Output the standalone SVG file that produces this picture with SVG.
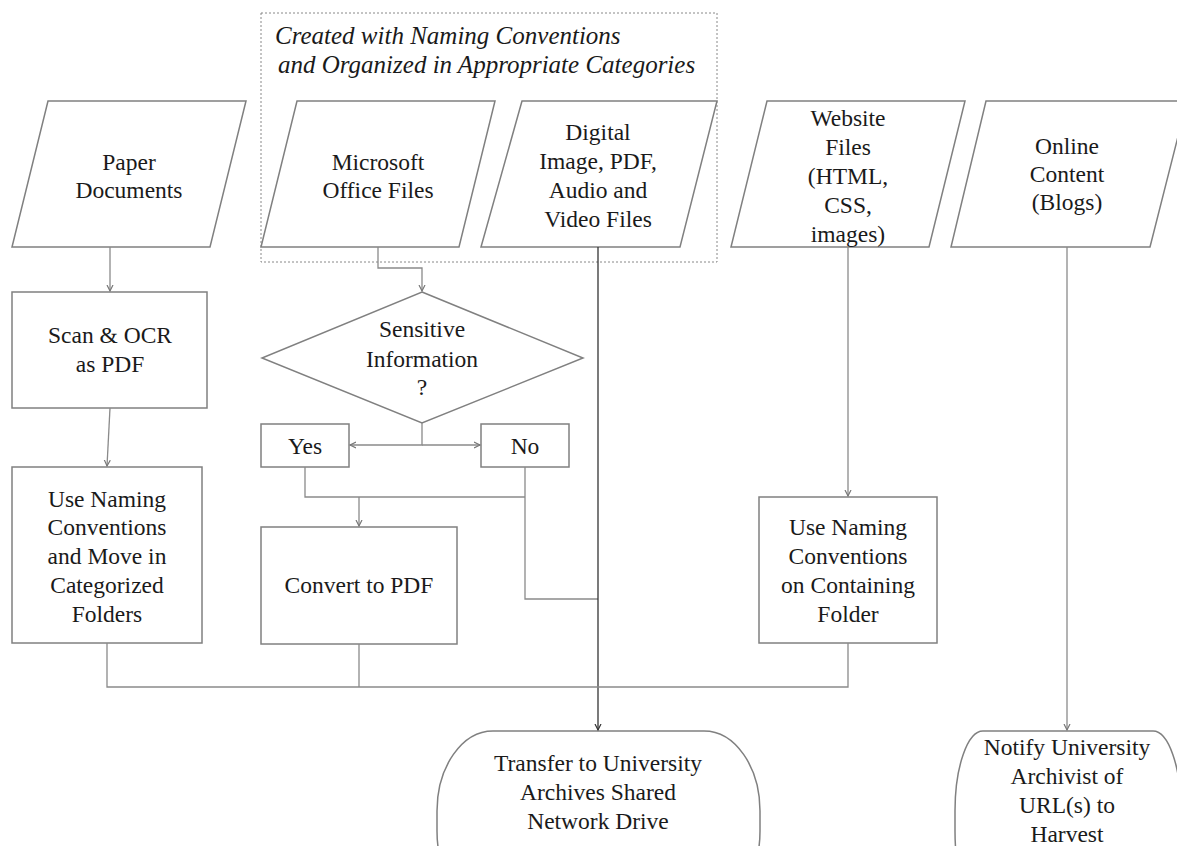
<svg xmlns="http://www.w3.org/2000/svg" width="1177" height="846" viewBox="0 0 1177 846">
<defs>
<marker id="arr" markerWidth="8" markerHeight="8" refX="6" refY="4" orient="auto" markerUnits="userSpaceOnUse">
<path d="M0,1 L6,4 L0,7" fill="none" stroke="#777" stroke-width="1.2"/>
</marker>
<marker id="arrDark" markerWidth="8" markerHeight="8" refX="6" refY="4" orient="auto" markerUnits="userSpaceOnUse">
<path d="M0,1 L6,4 L0,7" fill="none" stroke="#333" stroke-width="1.2"/>
</marker>
<style>
.shape{fill:#fff;stroke:#808080;stroke-width:1.5}
.t{font-family:"Liberation Serif","Times New Roman",serif;font-size:23.5px;fill:#1a1a1a;text-anchor:middle}
.it{font-family:"Liberation Serif","Times New Roman",serif;font-size:25px;font-style:italic;fill:#1a1a1a}
.c{fill:none;stroke:#8a8a8a;stroke-width:1.3}
.cd{fill:none;stroke:#333;stroke-width:1.3}
</style>
</defs>
<rect width="1177" height="846" fill="#fff"/>

<g id="group-box">
<rect x="261" y="13" width="456" height="249" fill="none" stroke="#888" stroke-width="1" stroke-dasharray="2,2"/>
<text class="it" x="275" y="44">Created with Naming Conventions</text>
<text class="it" x="278" y="73">and Organized in Appropriate Categories</text>
</g>

<g id="paper">
<polygon class="shape" points="48,101 246,101 210,247 12,247"/>
<text class="t" x="129" y="170">Paper</text>
<text class="t" x="129" y="198">Documents</text>
</g>
<g id="office">
<polygon class="shape" points="297,101 495,101 459,247 261,247"/>
<text class="t" x="378" y="170">Microsoft</text>
<text class="t" x="378" y="198">Office Files</text>
</g>
<g id="digital">
<polygon class="shape" points="522,101 717,101 680,247 481,247"/>
<text class="t" x="598" y="140">Digital</text>
<text class="t" x="598" y="169">Image, PDF,</text>
<text class="t" x="598" y="198">Audio and</text>
<text class="t" x="598" y="227">Video Files</text>
</g>
<g id="website">
<polygon class="shape" points="767,101 965,101 929,247 731,247"/>
<text class="t" x="848" y="126">Website</text>
<text class="t" x="848" y="155">Files</text>
<text class="t" x="848" y="184">(HTML,</text>
<text class="t" x="848" y="213">CSS,</text>
<text class="t" x="848" y="242">images)</text>
</g>
<g id="online">
<polygon class="shape" points="986,101 1187,101 1150,247 951,247"/>
<text class="t" x="1067" y="154">Online</text>
<text class="t" x="1067" y="182">Content</text>
<text class="t" x="1067" y="210">(Blogs)</text>
</g>

<g id="scan">
<rect class="shape" x="12" y="292" width="195" height="116"/>
<text class="t" x="110" y="343">Scan &amp; OCR</text>
<text class="t" x="110" y="372">as PDF</text>
</g>
<g id="naming-left">
<rect class="shape" x="12" y="467" width="190" height="176"/>
<text class="t" x="107" y="507">Use Naming</text>
<text class="t" x="107" y="535">Conventions</text>
<text class="t" x="107" y="564">and Move in</text>
<text class="t" x="107" y="593">Categorized</text>
<text class="t" x="107" y="622">Folders</text>
</g>
<g id="sensitive">
<polygon class="shape" points="422,292 583,358 422,423 262,358"/>
<text class="t" x="422" y="337">Sensitive</text>
<text class="t" x="422" y="367">Information</text>
<text class="t" x="422" y="395">?</text>
</g>
<g id="yes">
<rect class="shape" x="261" y="424" width="88" height="43"/>
<text class="t" x="305" y="454">Yes</text>
</g>
<g id="no">
<rect class="shape" x="481" y="424" width="88" height="43"/>
<text class="t" x="525" y="454">No</text>
</g>
<g id="convert">
<rect class="shape" x="261" y="527" width="196" height="117"/>
<text class="t" x="359" y="593">Convert to PDF</text>
</g>
<g id="naming-right">
<rect class="shape" x="759" y="497" width="178" height="146"/>
<text class="t" x="848" y="535">Use Naming</text>
<text class="t" x="848" y="564">Conventions</text>
<text class="t" x="848" y="593">on Containing</text>
<text class="t" x="848" y="622">Folder</text>
</g>
<g id="transfer">
<rect class="shape" x="437" y="731" width="323" height="180" rx="56" ry="80"/>
<text class="t" x="598" y="771">Transfer to University</text>
<text class="t" x="598" y="800">Archives Shared</text>
<text class="t" x="598" y="829">Network Drive</text>
</g>
<g id="notify">
<rect class="shape" x="955" y="731" width="226" height="180" rx="28" ry="80"/>
<text class="t" x="1067" y="755">Notify University</text>
<text class="t" x="1067" y="784">Archivist of</text>
<text class="t" x="1067" y="813">URL(s) to</text>
<text class="t" x="1067" y="842">Harvest</text>
</g>

<g id="connectors">
<path class="c" d="M110,247 V291" marker-end="url(#arr)"/>
<path class="c" d="M110,408 L107,466" marker-end="url(#arr)"/>
<path class="c" d="M378,247 V268 H422 V291" marker-end="url(#arr)"/>
<path class="c" d="M422,423 V445 H350" marker-end="url(#arr)"/>
<path class="c" d="M422,445 H480" marker-end="url(#arr)"/>
<path class="c" d="M305,467 V497 H525"/>
<path class="c" d="M359,497 V526" marker-end="url(#arr)"/>
<path class="c" d="M525,467 V599 H598"/>
<path class="cd" d="M598,247 V730" marker-end="url(#arrDark)"/>
<path class="c" d="M848,247 V496" marker-end="url(#arr)"/>
<path class="c" d="M107,643 V687 H848 V643"/>
<path class="c" d="M359,644 V687"/>
<path class="c" d="M1067,247 V730" marker-end="url(#arr)"/>
</g>
</svg>
